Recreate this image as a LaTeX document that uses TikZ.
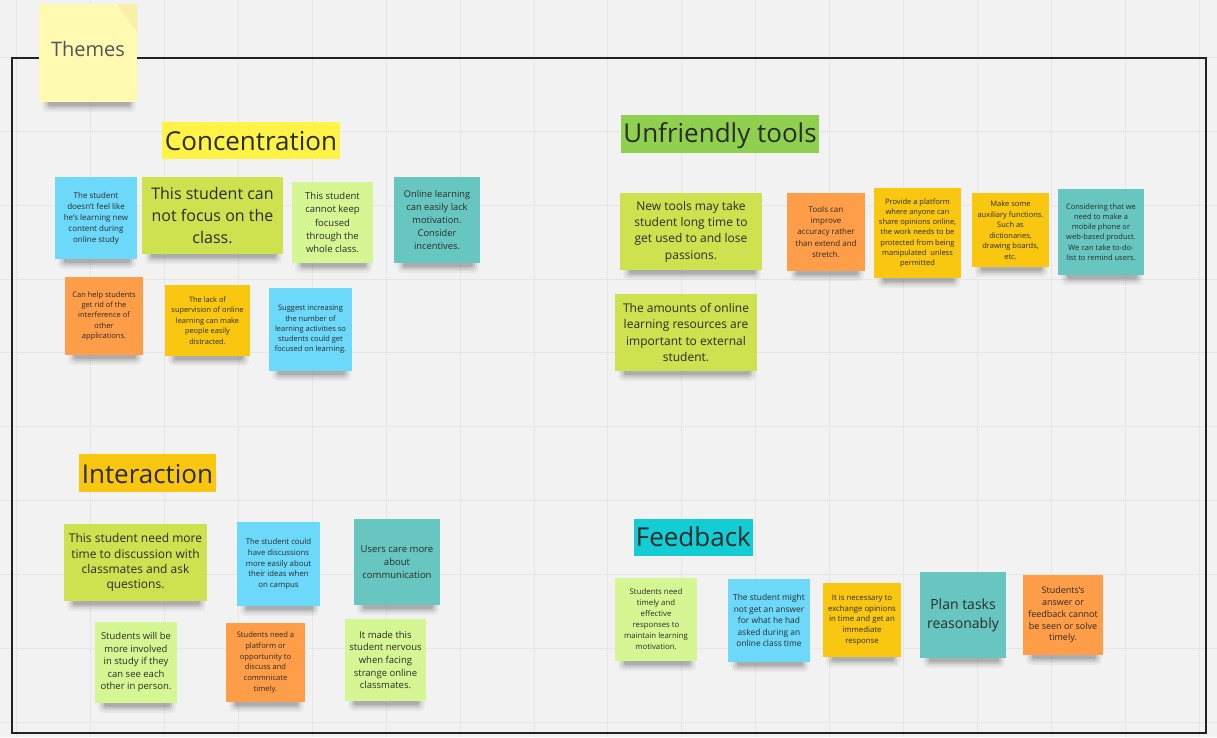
\documentclass[tikz,border=0pt]{standalone}
\usepackage{fontspec}
\setmainfont{Open Sans}
\definecolor{bg}{HTML}{F2F2F2}
\definecolor{gridc}{HTML}{E6E6E6}
\definecolor{framec}{HTML}{222222}
\definecolor{ink}{HTML}{2B2B2B}
\definecolor{themeink}{HTML}{555555}
\definecolor{paleyellow}{HTML}{FFF9B1}
\definecolor{foldyellow}{HTML}{F7F0A6}
\definecolor{yellowc}{HTML}{FAC710}
\definecolor{orangec}{HTML}{FF9D48}
\definecolor{lightgreen}{HTML}{D5F692}
\definecolor{greenc}{HTML}{CEE14F}
\definecolor{tealc}{HTML}{67C6C0}
\definecolor{bluec}{HTML}{6CD8FA}
\definecolor{hlyellow}{HTML}{FFF345}
\definecolor{hlgreen}{HTML}{8FD14F}
\definecolor{hlorange}{HTML}{FAC710}
\definecolor{hlcyan}{HTML}{12CDD4}
\newcommand\fs[2]{\fontsize{#1}{#2}\selectfont}
\newcommand\sticky[8]{%
  \fill[black,opacity=0.04,rounded corners=5pt] ({#3+3},{#6-6}) rectangle ({#5-1},{#6+10});
  \fill[black,opacity=0.06,rounded corners=4pt] ({#3+5},{#6-6}) rectangle ({#5-3},{#6+8});
  \fill[black,opacity=0.09,rounded corners=3pt] ({#3+7},{#6-6}) rectangle ({#5-5},{#6+6});
  \fill[black,opacity=0.12,rounded corners=2pt] ({#3+9},{#6-6}) rectangle ({#5-7},{#6+4});
  \node[note, fill=#2, minimum width={#5-#3}, minimum height={#6-#4}, font=#7] (#1) at ({(#3+#5)/2},{(#4+#6)/2}) {#8};
}
\tikzset{
  note/.style={inner sep=0pt, align=center, text=ink, anchor=center},
  heading/.style={inner sep=0pt, text=ink, font=\fs{26}{30}, text depth=0pt, anchor=center},
  gridline/.style={draw=gridc, line width=1pt},
  framebox/.style={draw=framec, line width=2pt}
}
\begin{document}
\begin{tikzpicture}[x=1pt,y=-1pt]
\useasboundingbox (0,0) rectangle (1217,737);
\fill[bg] (0,0) rectangle (1217,737);
\foreach \i in {0,...,16} \draw[gridline] ({16.7+73.9*\i},0) -- ({16.7+73.9*\i},737);
\foreach \j in {0,...,9} \draw[gridline] (0,{57.3+73.9*\j}) -- (1217,{57.3+73.9*\j});
\draw[framebox] (11.7,57.5) rectangle (1206,733);

% Themes
\sticky{themes}{paleyellow}{39}{4}{137}{102}{\fs{20}{24}}{}
\fill[foldyellow] (117,4) -- (137,4) -- (137,32) -- cycle;
\node[anchor=base, text=themeink, font=\fs{20}{24}] (themestext) at (88,56) {Themes};

% Headings
\node[heading, fill=hlyellow, minimum width=178, minimum height=37.6, text height=20pt] (concentration) at (251,140.5) {Concentration};
\node[heading, fill=hlgreen, minimum width=198.6, minimum height=38.3, text height=16pt] (unfriendly) at (720,134.2) {Unfriendly tools};
\node[heading, fill=hlorange, minimum width=136.4, minimum height=37.4, text height=20pt] (interaction) at (147.5,473) {Interaction};
\node[heading, fill=hlcyan, minimum width=118.7, minimum height=37.6, text height=18pt] (feedback) at (693.3,537.5) {Feedback};

% Concentration
\sticky{c1}{bluec}{55}{177}{137}{259}{\fs{8}{11}}{The student\\doesn't feel like\\he's learning new\\content during\\online study}
\sticky{c2}{greenc}{142}{177}{283}{254}{\fs{16}{21.7}}{This student can\\not focus on the\\class.}
\sticky{c3}{lightgreen}{292}{182}{373}{263}{\fs{9.5}{13.2}}{This student\\cannot keep\\focused\\through the\\whole class.}
\sticky{c4}{tealc}{394}{177}{480}{263}{\fs{9.3}{12.8}}{Online learning\\can easily lack\\motivation.\\Consider\\incentives.}
\sticky{c5}{orangec}{65}{277}{143}{355}{\fs{7.5}{10.2}}{Can help students\\get rid of the\\interference of\\other\\applications.}
\sticky{c6}{yellowc}{165}{285}{250}{356}{\fs{7.4}{10.4}}{The lack of\\supervision of online\\learning can make\\people easily\\distracted.}
\sticky{c7}{bluec}{269}{288}{352}{371}{\fs{7.5}{10.2}}{Suggest increasing\\the number of\\learning activities so\\students could get\\focused on learning.}

% Unfriendly tools
\sticky{u1}{greenc}{620}{193}{762}{270}{\fs{12}{16.3}}{New tools may take\\student long time to\\get used to and lose\\passions.}
\sticky{u2}{greenc}{615}{294}{757}{371}{\fs{12}{16.2}}{The amounts of online\\learning resources are\\important to external\\student.}
\sticky{u3}{orangec}{787}{193}{865}{271}{\fs{8}{11.4}}{Tools can\\improve\\accuracy rather\\than extend and\\stretch.}
\sticky{u4}{yellowc}{874}{188}{961}{278}{\fs{7.5}{10.3}}{Provide a platform\\where anyone can\\share opinions online,\\the work needs to be\\protected from being\\manipulated\ \ unless\\permitted}
\sticky{u5}{yellowc}{972}{193}{1049}{267}{\fs{7.5}{10.5}}{Make some\\auxiliary functions.\\Such as\\dictionaries,\\drawing boards,\\etc.}
\sticky{u6}{tealc}{1058}{189}{1144}{275}{\fs{7.5}{10.3}}{Considering that we\\need to make a\\mobile phone or\\web-based product.\\We can take to-do-\\list to remind users.}

% Interaction
\sticky{i1}{greenc}{64}{524}{207}{601}{\fs{12}{15.2}}{This student need more\\time to discussion with\\classmates and ask\\questions.}
\sticky{i2}{bluec}{237}{522}{320}{606}{\fs{7.8}{10.8}}{The student could\\have discussions\\more easily about\\their ideas when\\on campus}
\sticky{i3}{tealc}{354}{519}{440}{605}{\fs{9.5}{12.8}}{Users care more\\about\\communication}
\sticky{i4}{lightgreen}{95}{622}{177}{703}{\fs{9.5}{12.5}}{Students will be\\more involved\\in study if they\\can see each\\other in person.}
\sticky{i5}{orangec}{226}{623}{305}{702}{\fs{7.6}{10.7}}{Students need a\\platform or\\opportunity to\\discuss and\\commnicate\\timely.}
\sticky{i6}{lightgreen}{345}{619}{426}{701}{\fs{9.5}{12.6}}{It made this\\student nervous\\when facing\\strange online\\classmates.}

% Feedback
\sticky{f1}{lightgreen}{615}{578}{697}{661}{\fs{7.8}{11}}{Students need\\timely and\\effective\\responses to\\maintain learning\\motivation.}
\sticky{f2}{bluec}{728}{579}{810}{662}{\fs{8.4}{11.4}}{The student might\\not get an answer\\for what he had\\asked during an\\online class time}
\sticky{f3}{yellowc}{823}{583}{901}{657}{\fs{7.8}{10.6}}{It is necessary to\\exchange opinions\\in time and get an\\immediate\\response}
\sticky{f4}{tealc}{920}{572}{1006}{658}{\fs{14}{19}}{Plan tasks\\reasonably}
\sticky{f5}{orangec}{1023}{575}{1103}{655}{\fs{9}{11.7}}{Students's\\answer or\\feedback cannot\\be seen or solve\\timely.}
\end{tikzpicture}
\end{document}
